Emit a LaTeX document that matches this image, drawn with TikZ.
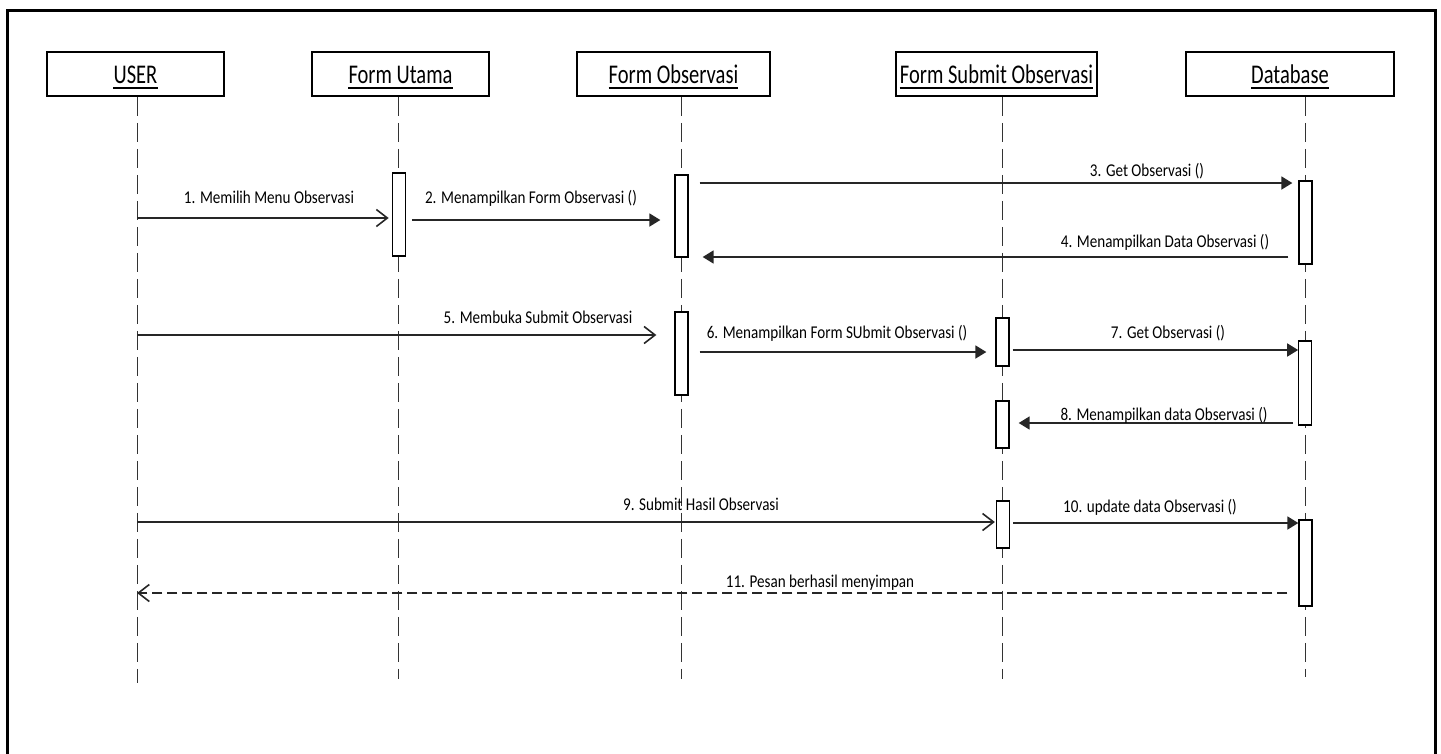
\documentclass[tikz,border=0pt]{standalone}
\usepackage{fontspec}
\setmainfont{Carlito}
\newfontfamily\hdrfont{Carlito}[FakeStretch=0.76]
\newfontfamily\lblfont{Carlito}[FakeStretch=0.84]
\usetikzlibrary{arrows.meta,calc}
\tikzset{
  hdrbox/.style={draw=black, line width=1.5pt, minimum height=44pt, inner sep=0pt},
  hdrtxt/.style={font=\hdrfont\fontsize{27}{30}\selectfont, inner sep=0pt, anchor=base},
  uline/.style={draw=black, line width=1.4pt},
  life/.style={draw=black!80, line width=1pt, dash pattern=on 19pt off 7pt},
  act/.style={draw=black, fill=white, line width=1.3pt, minimum width=13pt, inner sep=0pt},
  msg/.style={draw=black!85, line width=1.8pt},
  syncmsg/.style={msg, -{Triangle[length=11pt,width=13pt]}},
  asyncmsg/.style={msg, -{Straight Barb[length=11pt,width=17pt,line width=1.6pt]}},
  retmsg/.style={msg, line width=1.5pt, dash pattern=on 10pt off 5pt, -{Straight Barb[length=11pt,width=17pt,line width=1.6pt]}},
  lbl/.style={font=\lblfont\fontsize{18}{20}\selectfont, inner sep=0pt, anchor=base},
}
\begin{document}
\begin{tikzpicture}[x=1pt,y=-1pt]
\useasboundingbox (0,0) rectangle (1441,753);
\begin{scope}
\clip (0,0) rectangle (1441,753);
\draw[line width=3pt] (7,10.5) rectangle (1435.5,770);
\end{scope}

% header boxes
\node[hdrbox, minimum width=177pt] (bU)  at (135.5,74) {};
\node[hdrbox, minimum width=177pt] (bFU) at (400.5,74) {};
\node[hdrbox, minimum width=193pt] (bFO) at (673.5,74) {};
\node[hdrbox, minimum width=201pt] (bFS) at (996.5,74) {};
\node[hdrbox, minimum width=208pt] (bDB) at (1290,74) {};

\node[hdrtxt] (tU)  at (135.5,83) {USER};
\node[hdrtxt] (tFU) at (400.5,83) {Form Utama};
\node[hdrtxt] (tFO) at (673.5,83) {Form Observasi};
\node[hdrtxt] (tFS) at (996.5,83) {Form Submit Observasi};
\node[hdrtxt] (tDB) at (1290,83) {Database};
\foreach \t in {tU,tFU,tFO,tFS,tDB}
  \draw[uline] ($(\t.base west)+(0,5)$) -- ($(\t.base east)+(0,5)$);

% lifeline ends
\coordinate (eU)  at (137,683);
\coordinate (eFU) at (398,679);
\coordinate (eFO) at (681.5,679);
\coordinate (eFS) at (1002.5,679);
\coordinate (eDB) at (1305.5,677);
\draw[life] (bU.south -| eU) -- (eU);
\draw[life] (bFU.south -| eFU) -- (eFU);
\draw[life] (bFO.south -| eFO) -- (eFO);
\draw[life] (bFS.south -| eFS) -- (eFS);
\draw[life] (bDB.south -| eDB) -- (eDB);

% activations
\node[act, minimum height=83pt] (aFU)  at (398.8,214.5) {};
\node[act, minimum height=82pt] (aFO1) at (681.5,216) {};
\node[act, minimum height=83pt] (aDB1) at (1305.5,222.5) {};
\node[act, minimum height=83pt] (aFO2) at (681.5,353.5) {};
\node[act, minimum height=48pt] (aFSa) at (1002.5,342) {};
\node[act, minimum height=84pt] (aDB2) at (1305.3,383) {};
\node[act, minimum height=47pt] (aFSb) at (1002.5,424.5) {};
\node[act, minimum height=47pt] (aFSc) at (1003,524.5) {};
\node[act, minimum height=86pt] (aDB3) at (1305.5,563) {};

% message start points on the USER lifeline
\coordinate (s1) at (137,218);
\coordinate (s5) at (137,335);
\coordinate (s9) at (137,522);
\coordinate (e11) at (137,593);

% messages
\draw[asyncmsg, shorten >=3pt] (s1) -- (aFU.west |- s1);
\draw[syncmsg, shorten <=6pt, shorten >=14pt] (aFU.east |- 0,220) -- (aFO1.west |- 0,220);
\draw[syncmsg, shorten <=11pt, shorten >=6pt] (aFO1.east |- 0,183) -- (aDB1.west |- 0,183);
\draw[syncmsg, shorten <=10pt, shorten >=14pt] (aDB1.west |- 0,257) -- (aFO1.east |- 0,257);
\draw[asyncmsg, shorten >=18pt] (s5) -- (aFO2.west |- s5);
\draw[syncmsg, shorten <=11pt, shorten >=9pt] (aFO2.east |- 0,352) -- (aFSa.west |- 0,352);
\draw[syncmsg, shorten <=3pt] (aFSa.east |- 0,350) -- (aDB2.west |- 0,350);
\draw[syncmsg, shorten <=5pt, shorten >=9pt] (aDB2.west |- 0,423) -- (aFSb.east |- 0,423);
\draw[asyncmsg, shorten >=1pt] (s9) -- (aFSc.west |- s9);
\draw[syncmsg, shorten <=3pt] (aFSc.east |- 0,523) -- (aDB3.west |- 0,523);
\draw[retmsg, shorten <=11pt] (aDB3.west |- e11) -- (e11);

% labels
\node[lbl] (l1)  at (269,203)  {1. Memilih Menu Observasi};
\node[lbl] (l2)  at (531,203)  {2. Menampilkan Form Observasi ()};
\node[lbl] (l3)  at (1147,176) {3. Get Observasi ()};
\node[lbl] (l4)  at (1165,247) {4. Menampilkan Data Observasi ()};
\node[lbl] (l5)  at (538,323)  {5. Membuka Submit Observasi};
\node[lbl] (l6)  at (837,338)  {6. Menampilkan Form SUbmit Observasi ()};
\node[lbl] (l7)  at (1168,338) {7. Get Observasi ()};
\node[lbl] (l8)  at (1164,420) {8. Menampilkan data Observasi ()};
\node[lbl] (l9)  at (701,510)  {9. Submit Hasil Observasi};
\node[lbl] (l10) at (1150,512) {10. update data Observasi ()};
\node[lbl] (l11) at (820,587)  {11. Pesan berhasil menyimpan};
\end{tikzpicture}
\end{document}
